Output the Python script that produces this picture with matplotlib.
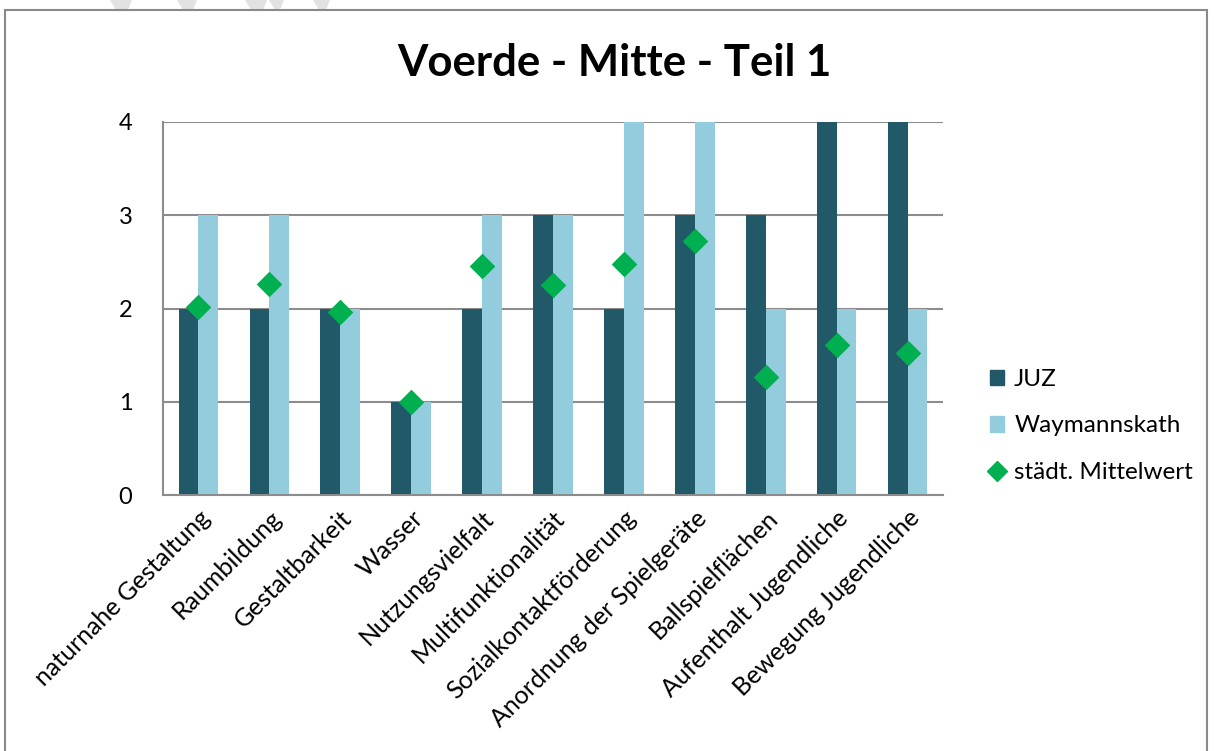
import numpy as np
import matplotlib.pyplot as plt
from matplotlib.patches import Rectangle, Polygon
from matplotlib.lines import Line2D

plt.rcParams['font.family'] = ['Lato', 'DejaVu Sans']

kategorien = ['naturnahe Gestaltung', 'Raumbildung', 'Gestaltbarkeit', 'Wasser',
              'Nutzungsvielfalt', 'Multifunktionalität', 'Sozialkontaktförderung',
              'Anordnung der Spielgeräte', 'Ballspielflächen', 'Aufenthalt Jugendliche',
              'Bewegung Jugendliche']
juz = [2, 2, 2, 1, 2, 3, 2, 3, 3, 4, 4]
waymannskath = [3, 3, 2, 1, 3, 3, 4, 4, 2, 2, 2]
mittelwert = [2.02, 2.26, 1.96, 1.00, 2.46, 2.25, 2.48, 2.72, 1.27, 1.61, 1.52]

c_juz = '#215968'
c_way = '#93CDDD'
c_mw = '#00B050'
c_grid = '#8c8c8c'

fig = plt.figure(figsize=(12.15, 7.51), dpi=100)
W, H = 1215, 751

# graue Streifen am oberen Rand
for x0, x1 in [(110, 132), (177, 197), (245, 267), (269, 284), (313, 330)]:
    pts = [(x0 / W, 1.0), (x1 / W, 1.0), ((x1 - 4) / W, 1 - 10 / H), ((x0 + 6) / W, 1 - 10 / H)]
    fig.patches.append(Polygon(pts, closed=True, transform=fig.transFigure,
                               facecolor='#e2e2e2', edgecolor='none', zorder=0))
# Rahmen um das Diagramm
fig.patches.append(Rectangle((5 / W, -0.01), 1202 / W, (741 + 8) / H, transform=fig.transFigure,
                             fill=False, edgecolor='#8a8a8a', linewidth=1.5, zorder=1))

ax = fig.add_axes([163 / W, 1 - 495 / H, 780 / W, 373 / H])
x = np.arange(len(kategorien))
bw = 0.28
ax.bar(x - bw / 2, juz, bw, color=c_juz, label='JUZ', zorder=2)
ax.bar(x + bw / 2, waymannskath, bw, color=c_way, label='Waymannskath', zorder=2)
ax.scatter(x, mittelwert, marker='D', s=170, color=c_mw, label='städt. Mittelwert', zorder=3,
           linewidths=0)

ax.set_xlim(-0.5, len(kategorien) - 0.5)
ax.set_ylim(0, 4)
ax.set_yticks([0, 1, 2, 3, 4])
ax.yaxis.grid(True, color=c_grid, linewidth=1.5, zorder=1)
ax.set_axisbelow(True)
for s in ['top', 'right']:
    ax.spines[s].set_visible(False)
for s in ['left', 'bottom']:
    ax.spines[s].set_color(c_grid)
    ax.spines[s].set_linewidth(1.5)
ax.tick_params(axis='y', length=0, labelsize=17, pad=22)
ax.set_xticks(x)
ax.set_xticklabels(kategorien, rotation=45, ha='right', rotation_mode='anchor')
ax.tick_params(axis='x', length=0, labelsize=18, pad=8)

fig.text(614 / W, 1 - 63 / H, 'Voerde - Mitte - Teil 1', ha='center', va='center',
         fontsize=31.5, fontweight='bold')

handles = [Rectangle((0, 0), 1, 1, color=c_juz),
           Rectangle((0, 0), 1, 1, color=c_way),
           Line2D([], [], marker='D', linestyle='none', color=c_mw, markersize=10)]
fig.legend(handles, ['JUZ', 'Waymannskath', 'städt. Mittelwert'],
           loc='center left', bbox_to_anchor=(968 / W, 1 - 426 / H), frameon=False,
           fontsize=17.5, handlelength=0.6, handleheight=0.6, handletextpad=0.4,
           labelspacing=1.05)

fig.savefig('out.png', dpi=100)
